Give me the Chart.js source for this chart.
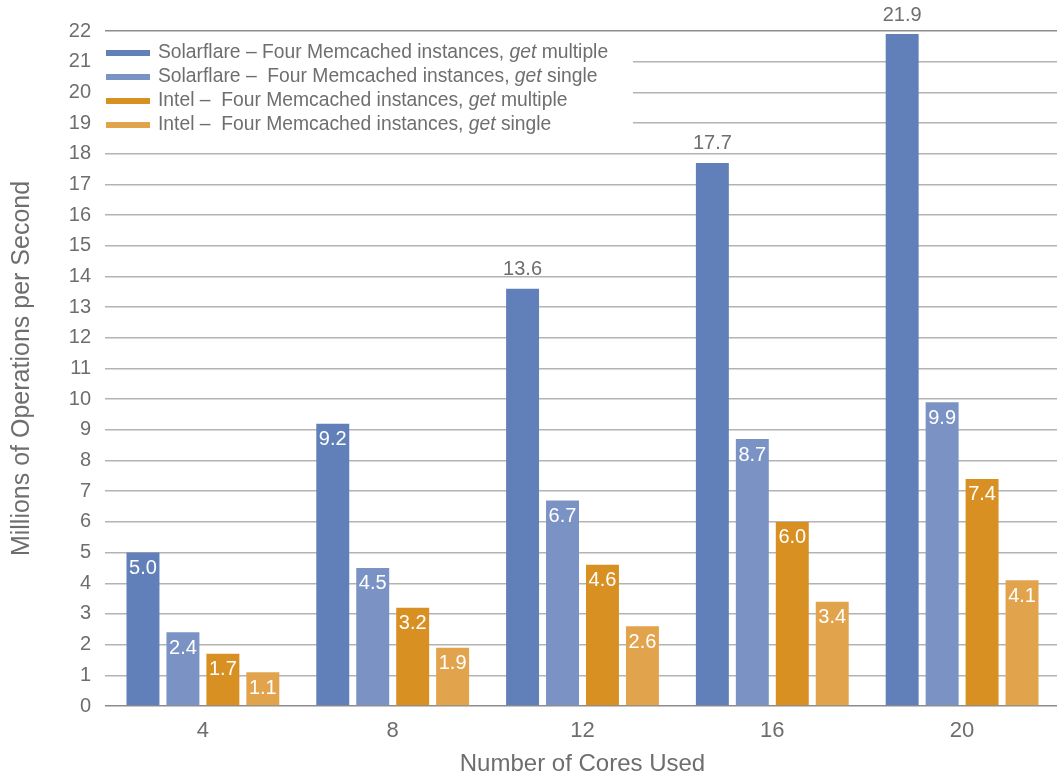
<!DOCTYPE html>
<html>
<head>
<meta charset="utf-8">
<script src="https://cdn.jsdelivr.net/npm/chart.js@4/dist/chart.umd.min.js"></script>
<style>
  html, body { margin: 0; padding: 0; background: #fff; }
  #wrap { width: 1057px; height: 780px; position: relative; }
</style>
</head>
<body>
<div id="wrap"><canvas id="c"></canvas></div>
<script>
// Cores used per run
const cores = ['4', '8', '12', '16', '20'];

// Millions of operations per second for each configuration
const solarflareMultiple = [5.0, 9.2, 13.6, 17.7, 21.9];
const solarflareSingle   = [2.4, 4.5, 6.7, 8.7, 9.9];
const intelMultiple      = [1.7, 3.2, 4.6, 6.0, 7.4];
const intelSingle        = [1.1, 1.9, 2.6, 3.4, 4.1];

// Legend text: plain prefix, italic word, plain suffix
const legendParts = [
  ['Solarflare \u2013 Four Memcached instances, ', 'get', ' multiple'],
  ['Solarflare \u2013  Four Memcached instances, ', 'get', ' single'],
  ['Intel \u2013  Four Memcached instances, ', 'get', ' multiple'],
  ['Intel \u2013  Four Memcached instances, ', 'get', ' single']
];

const colors = ['#6180b9', '#7b93c4', '#d99023', '#e2a34d'];
const textColor = '#6e6e6e';
const FONT = '"Liberation Sans", Arial, Helvetica, sans-serif';

// Value labels: white inside the bar top, or grey above the tall bars
const valueLabels = {
  id: 'valueLabels',
  afterDatasetsDraw(chart) {
    const ctx = chart.ctx;
    ctx.save();
    ctx.font = '20px ' + FONT;
    ctx.textAlign = 'center';
    ctx.textBaseline = 'middle';
    chart.data.datasets.forEach((ds, di) => {
      const meta = chart.getDatasetMeta(di);
      meta.data.forEach((bar, i) => {
        const v = ds.data[i];
        const txt = v.toFixed(1);
        if (di === 0 && v > 10) {
          ctx.fillStyle = textColor;
          ctx.fillText(txt, bar.x, bar.y - 19);
        } else {
          ctx.fillStyle = '#ffffff';
          ctx.fillText(txt, bar.x, bar.y + 16);
        }
      });
    });
    ctx.restore();
  }
};

// Legend box drawn over the upper grid lines
const boxLegend = {
  id: 'boxLegend',
  afterDraw(chart) {
    const ctx = chart.ctx;
    const size = 19.3;
    ctx.save();
    ctx.fillStyle = '#ffffff';
    ctx.fillRect(100, 38, 533, 100);
    const rowY = [53, 77, 101, 125];
    legendParts.forEach((parts, i) => {
      const y = rowY[i];
      ctx.fillStyle = colors[i];
      ctx.fillRect(106, y - 3, 44, 6);
      let x = 158;
      ctx.textBaseline = 'middle';
      ctx.textAlign = 'left';
      ctx.fillStyle = textColor;
      ctx.font = size + 'px ' + FONT;
      ctx.fillText(parts[0], x, y);
      x += ctx.measureText(parts[0]).width;
      ctx.font = 'italic ' + size + 'px ' + FONT;
      ctx.fillText(parts[1], x, y);
      x += ctx.measureText(parts[1]).width;
      ctx.font = size + 'px ' + FONT;
      ctx.fillText(parts[2], x, y);
    });
    ctx.restore();
  }
};

const series = [solarflareMultiple, solarflareSingle, intelMultiple, intelSingle];

new Chart(document.getElementById('c'), {
  type: 'bar',
  data: {
    labels: cores,
    datasets: series.map((d, i) => ({
      label: legendParts[i].join(''),
      data: d,
      backgroundColor: colors[i],
      borderWidth: 0,
      categoryPercentage: 0.842,
      barPercentage: 0.825
    }))
  },
  options: {
    responsive: true,
    maintainAspectRatio: false,
    animation: false,
    layout: { padding: { top: 31, left: 0, right: 0, bottom: 0 } },
    plugins: {
      legend: { display: false },
      tooltip: { enabled: false }
    },
    scales: {
      x: {
        grid: { display: false, drawTicks: false },
        border: { display: false },
        ticks: { color: textColor, font: { family: FONT, size: 22 }, padding: 12 },
        title: {
          display: true,
          text: 'Number of Cores Used',
          color: textColor,
          font: { family: FONT, size: 24 },
          padding: { top: 0, bottom: 1 }
        },
        afterFit(scale) { scale.height = 74; }
      },
      y: {
        min: 0,
        max: 22,
        ticks: {
          stepSize: 1,
          color: textColor,
          font: { family: FONT, size: 20 },
          padding: 14
        },
        grid: {
          color: (c) => (c.tick && (c.tick.value === 0 || c.tick.value === 22)) ? '#8c8c8c' : '#b3b3b3',
          lineWidth: 1.5,
          tickLength: 3
        },
        border: { display: false },
        title: {
          display: true,
          text: 'Millions of Operations per Second',
          color: textColor,
          font: { family: FONT, size: 25 },
          padding: { top: 7, bottom: 0 }
        },
        afterFit(scale) { scale.width = 108; }
      }
    }
  },
  plugins: [valueLabels, boxLegend]
});
</script>
</body>
</html>
